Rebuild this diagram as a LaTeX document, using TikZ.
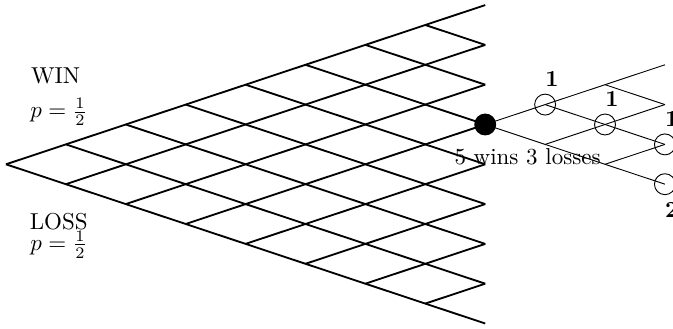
\documentclass[tikz,border=0pt]{standalone}
\usepackage{tikz}
\usetikzlibrary{positioning}
\tikzset{
    lattice/.style={
        draw=black,
        thick
    },
    branch/.style={
        draw=black,
        thin
    },
    outcome/.style={
        circle,
        draw=black,
        thin,
        minimum size=9.1pt,
        inner sep=0pt
    },
    current/.style={
        outcome,
        fill=black
    },
    count/.style={
        xshift=3pt,
        inner sep=3pt
    }
}

\begin{document}
\begin{tikzpicture}[x=0.9151cm, y=0.304cm]
    % Page size :
    \useasboundingbox (-0.1,-8.276) rectangle (11.135,8.256);

    % Lattice points
    \foreach \i in {0,...,8} {
        \foreach \j in {0,...,\i} {
            \coordinate (b-\i-\j) at (\i, \i-2*\j);
        }
    }
    \foreach \i in {0,...,3} {
        \foreach \j in {0,...,\i} {
            \coordinate (s-\i-\j) at (8+\i, 2+\i-2*\j);
        }
    }

    % Big lattice
    \foreach \k [evaluate=\k as \m using int(8-\k)] in {0,...,7} {
        \draw [lattice] (b-\k-\k) -- (b-8-\k);
        \draw [lattice] (b-\k-0) -- (b-8-\m);
    }

    % Small lattice
    \foreach \k [evaluate=\k as \m using int(3-\k)] in {0,...,2} {
        \draw [branch] (s-\k-\k) -- (s-3-\k);
        \draw [branch] (s-\k-0) -- (s-3-\m);
    }

    % Outcomes
    \node (now) [current] at (s-0-0) {};
    \node (w) [
        outcome,
        label={[count]above:$\mathbf{1}$}
    ] at (s-1-0) {};
    \node (wl) [
        outcome,
        label={[count]above:$\mathbf{1}$}
    ] at (s-2-1) {};
    \node (wll) [
        outcome,
        label={[count]above:$\mathbf{1}$}
    ] at (s-3-2) {};
    \node (lll) [
        outcome,
        label={[count]below:$\mathbf{2}$}
    ] at (s-3-3) {};

    % Texts
    \node (score) [anchor=base west, inner sep=0pt] at (7.48,0) {5 wins 3 losses};
    \node (win) [anchor=base west, inner sep=0pt] at (0.41,4.04) {WIN};
    \node (pwin) [anchor=base west, inner sep=0pt] at (0.40,2.33) {$p=\frac{1}{2}$};
    \node (loss) [anchor=base west, inner sep=0pt] at (0.39,-3.30) {LOSS};
    \node (ploss) [anchor=base west, inner sep=0pt] at (0.40,-4.33) {$p=\frac{1}{2}$};
\end{tikzpicture}
\end{document}
